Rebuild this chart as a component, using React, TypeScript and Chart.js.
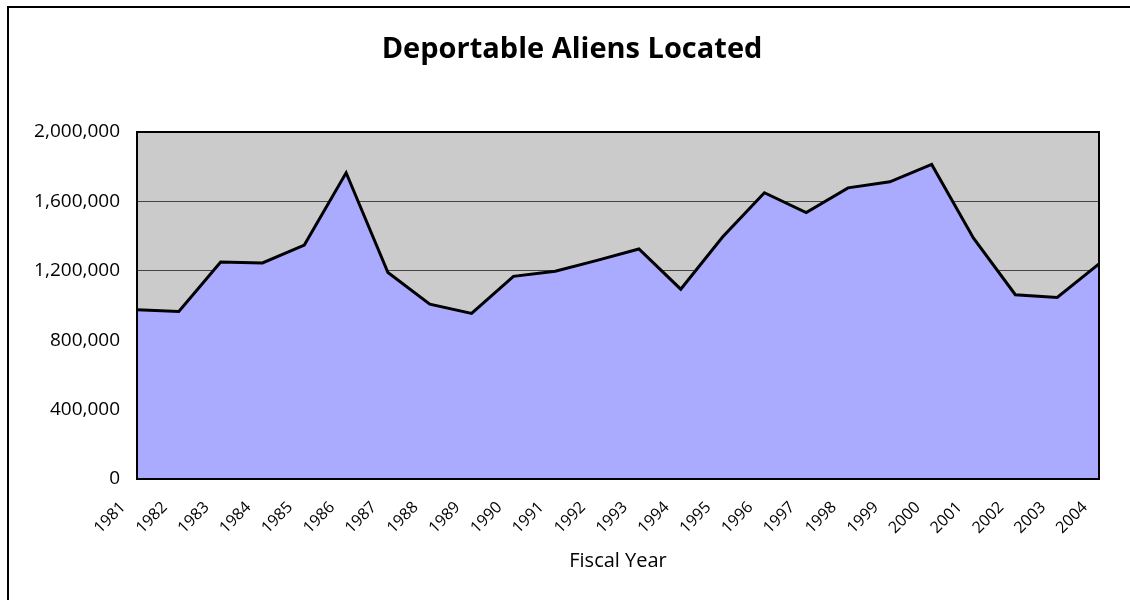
import React, { useEffect, useRef } from "react";
import { Chart, registerables } from "chart.js";

Chart.register(...registerables);

const years: string[] = [
  "1981", "1982", "1983", "1984", "1985", "1986", "1987", "1988",
  "1989", "1990", "1991", "1992", "1993", "1994", "1995", "1996",
  "1997", "1998", "1999", "2000", "2001", "2002", "2003", "2004",
];

const aliensLocated: number[] = [
  975000, 965000, 1250000, 1245000, 1348000, 1765000, 1190000, 1008000,
  954000, 1168000, 1197000, 1260000, 1326000, 1094000, 1395000, 1650000,
  1536000, 1678000, 1713000, 1813000, 1388000, 1062000, 1046000, 1240000,
];

const yMin = 0;
const yMax = 2000000;
const yStep = 400000;

const chartTitle = "Deportable Aliens Located";
const xAxisTitle = "Fiscal Year";

const FONT = "'Open Sans', 'Noto Sans', sans-serif";

const framePlugin = {
  id: "framePlugin",
  afterLayout(chart: any) {
    // let the y tick labels use the whole left margin (no clipping)
    if (chart.scales && chart.scales.y) chart.scales.y.left = 0;
  },
  beforeDraw(chart: any) {
    const { ctx, chartArea } = chart;
    ctx.save();
    ctx.fillStyle = "#ffffff";
    ctx.fillRect(0, 0, chart.width, chart.height);
    ctx.fillStyle = "#cbcbcb";
    ctx.fillRect(chartArea.left, chartArea.top, chartArea.right - chartArea.left, chartArea.bottom - chartArea.top);
    ctx.restore();
  },
  afterDatasetsDraw(chart: any) {
    const { ctx, chartArea } = chart;
    ctx.save();
    ctx.strokeStyle = "#000000";
    ctx.lineWidth = 2;
    ctx.strokeRect(chartArea.left, chartArea.top, chartArea.right - chartArea.left, chartArea.bottom - chartArea.top);
    ctx.restore();
  },
  afterDraw(chart: any) {
    const { ctx } = chart;
    ctx.save();
    ctx.fillStyle = "#000000";
    ctx.fillRect(7, 6, 2, chart.height);
    ctx.fillRect(7, 6, chart.width, 2);
    ctx.restore();
  },
};

export default function App() {
  const canvasRef = useRef<HTMLCanvasElement | null>(null);

  useEffect(() => {
    const canvas = canvasRef.current;
    if (!canvas) return;
    const chart = new Chart(canvas, {
      type: "line",
      data: {
        labels: years,
        datasets: [
          {
            data: aliensLocated,
            borderColor: "#000000",
            borderWidth: 3,
            borderJoinStyle: "miter",
            backgroundColor: "#aaaaff",
            fill: "origin",
            pointRadius: 0,
            tension: 0,
          },
        ],
      },
      options: {
        animation: false,
        responsive: false,
        devicePixelRatio: 1,
        layout: { padding: { left: 45, right: 31, top: 0, bottom: 0 } },
        plugins: {
          legend: { display: false },
          tooltip: { enabled: false },
          title: {
            display: true,
            text: chartTitle,
            color: "#000000",
            font: { family: FONT, size: 29, weight: "bold", lineHeight: 1.2 },
            padding: { top: 32, bottom: 65.2 },
          },
        },
        scales: {
          x: {
            type: "category",
            offset: false,
            border: { display: false },
            grid: { display: false, drawTicks: false },
            ticks: {
              autoSkip: false,
              maxRotation: 45,
              minRotation: 45,
              padding: 19,
              labelOffset: -14,
              color: "#000000",
              font: { family: FONT, size: 16 },
            },
            title: {
              display: true,
              text: xAxisTitle,
              color: "#000000",
              font: { family: FONT, size: 20, lineHeight: 1.2 },
              padding: { top: 0, bottom: 27 },
            },
            afterFit(scale: any) {
              scale.height = 121;
              scale.paddingLeft = 0;
              scale.paddingRight = 0;
            },
          },
          y: {
            min: yMin,
            max: yMax,
            border: { display: false },
            grid: { color: "#444444", lineWidth: 1, drawTicks: false },
            ticks: {
              stepSize: yStep,
              padding: 17,
              color: "#000000",
              font: { family: FONT, size: 19 },
              callback: (v: any) => Number(v).toLocaleString("en-US"),
            },
            afterFit(scale: any) {
              scale.width = 92;
              scale.paddingTop = 0;
              scale.paddingBottom = 0;
            },
          },
        },
      },
      plugins: [framePlugin],
    });
    return () => chart.destroy();
  }, []);

  return (
    <div style={{ position: "fixed", left: 0, top: 0, width: 1130, height: 600, overflow: "hidden" }}>
      <canvas ref={canvasRef} width={1130} height={600} />
    </div>
  );
}
